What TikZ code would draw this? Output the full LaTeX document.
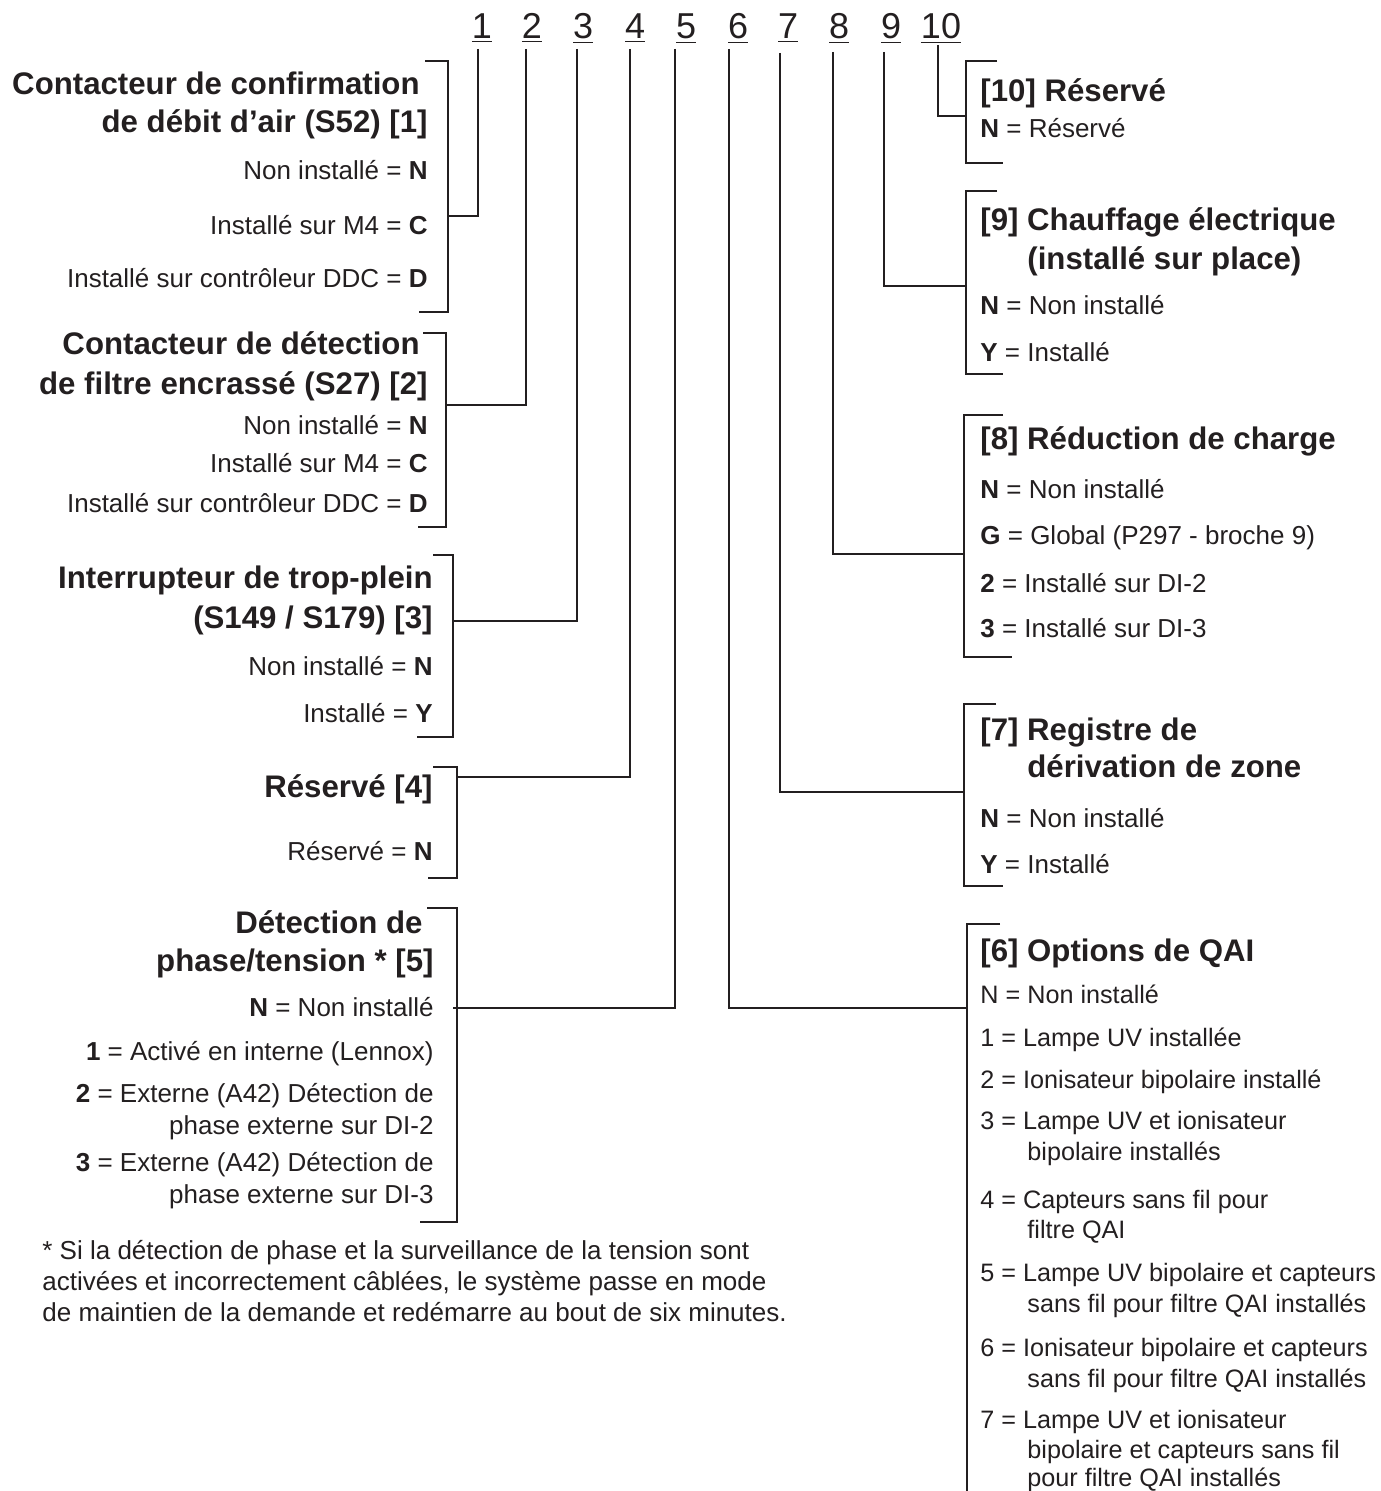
\documentclass[tikz,border=0pt]{standalone}
\usepackage{fontspec}
\setmainfont{Liberation Sans}
\definecolor{ink}{RGB}{35,31,32}
\tikzset{
  wire/.style    = {draw=ink, line width=1.1pt, line join=miter},
  opttxt/.style  = {font=\fontsize{13}{15}\selectfont, text=ink, inner sep=0pt},
  qaitxt/.style  = {opttxt, font=\fontsize{12.6}{15}\selectfont},
  headtxt/.style = {font=\fontsize{15.6}{18}\selectfont\bfseries, text=ink, inner sep=0pt},
  digit/.style   = {font=\fontsize{18}{20}\selectfont, text=ink, inner sep=0pt, anchor=base}
}
\begin{document}
\begin{tikzpicture}[x=0.5pt, y=-0.5pt]
  \useasboundingbox (0,0) rectangle (1380,1491);

  % ===================== digit row and wire tops =====================
  \foreach \n/\cx/\wx/\wy in {1/482/478/49, 2/532/526/49, 3/583/577/49, 4/635/630/49,
                              5/686/675/49, 6/738/729/49, 7/788/780/53, 8/839/833/52,
                              9/891/884/52, 10/941/938/45} {
    \node[digit] (d\n) at (\cx,39) {\underline{\n}};
    \coordinate (t\n) at (\wx,\wy);
  }

  % ===================== left column =====================
  % [1] air flow switch
  \node[headtxt, anchor=base east] (g1h1) at (420,95)  {Contacteur de confirmation};
  \node[headtxt, anchor=base east] (g1h2) at (428,133) {de débit d’air (S52) [1]};
  \foreach \y/\t [count=\i] in {180/Non installé = \textbf{N}, 235/Installé sur M4 = \textbf{C},
                                288/Installé sur contrôleur DDC = \textbf{D}}
    \node[opttxt, anchor=base east] (g1o\i) at (428,\y) {\t};
  \draw[wire] (425,61) -| (448,312) -- (419,312);
  \coordinate (j1) at (448,216);

  % [2] dirty filter switch
  \node[headtxt, anchor=base east] (g2h1) at (420,355) {Contacteur de détection};
  \node[headtxt, anchor=base east] (g2h2) at (428,395) {de filtre encrassé (S27) [2]};
  \foreach \y/\t [count=\i] in {435/Non installé = \textbf{N}, 473/Installé sur M4 = \textbf{C},
                                512/Installé sur contrôleur DDC = \textbf{D}}
    \node[opttxt, anchor=base east] (g2o\i) at (428,\y) {\t};
  \draw[wire] (423,333) -| (446,527) -- (418,527);
  \coordinate (j2) at (446,405);

  % [3] overflow switch
  \node[headtxt, anchor=base east] (g3h1) at (433,588) {Interrupteur de trop-plein};
  \node[headtxt, anchor=base east] (g3h2) at (433,628) {(S149 / S179) [3]};
  \foreach \y/\t [count=\i] in {675/Non installé = \textbf{N}, 722/Installé = \textbf{Y}}
    \node[opttxt, anchor=base east] (g3o\i) at (433,\y) {\t};
  \draw[wire] (433,555) -| (453,737) -- (417,737);
  \coordinate (j3) at (453,621);

  % [4] reserved
  \node[headtxt, anchor=base east] (g4h1) at (433,797) {Réservé [4]};
  \node[opttxt, anchor=base east] (g4o1) at (433,860) {Réservé = \textbf{N}};
  \draw[wire] (433,767) -| (457,878) -- (428,878);
  \coordinate (j4) at (457,777);

  % [5] phase / voltage detection
  \node[headtxt, anchor=base east] (g5h1) at (423,933) {Détection de};
  \node[headtxt, anchor=base east] (g5h2) at (434,971) {phase/tension * [5]};
  \foreach \y/\t [count=\i] in {1016/\textbf{N} = Non installé,
                                1060/\textbf{1} = Activé en interne (Lennox),
                                1102/\textbf{2} = Externe (A42) Détection de,
                                1134/phase externe sur DI-2,
                                1171/\textbf{3} = Externe (A42) Détection de,
                                1203/phase externe sur DI-3}
    \node[opttxt, anchor=base east] (g5o\i) at (434,\y) {\t};
  \draw[wire] (427,908) -| (457,1222) -- (420,1222);
  \coordinate (j5) at (453,1008);

  % footnote
  \foreach \y/\t [count=\i] in {1259/* Si la détection de phase et la surveillance de la tension sont,
                                1290/{activées et incorrectement câblées, le système passe en mode},
                                1321/de maintien de la demande et redémarre au bout de six minutes.}
    \node[opttxt, anchor=base west] (fn\i) at (42,\y) {\t};

  % ===================== right column =====================
  % [10] reserved
  \node[headtxt, anchor=base west] (g10h1) at (980,102) {[10] Réservé};
  \node[opttxt, anchor=base west] (g10o1) at (980,138) {\textbf{N} = Réservé};
  \draw[wire] (997,61) -| (966,163) -- (1003,163);
  \coordinate (j10) at (966,116);

  % [9] electric heat
  \node[headtxt, anchor=base west] (g9h1) at (980,231)  {[9] Chauffage électrique};
  \node[headtxt, anchor=base west] (g9h2) at (1027,270) {(installé sur place)};
  \foreach \y/\t [count=\i] in {315/\textbf{N} = Non installé, 362/\textbf{Y} = Installé}
    \node[opttxt, anchor=base west] (g9o\i) at (980,\y) {\t};
  \draw[wire] (997,191) -| (966,374) -- (1003,374);
  \coordinate (j9) at (966,286);

  % [8] load shedding
  \node[headtxt, anchor=base west] (g8h1) at (980,450) {[8] Réduction de charge};
  \foreach \y/\t [count=\i] in {499/\textbf{N} = Non installé, 545/\textbf{G} = Global (P297 - broche 9),
                                592/\textbf{2} = Installé sur DI-2, 637/\textbf{3} = Installé sur DI-3}
    \node[opttxt, anchor=base west] (g8o\i) at (980,\y) {\t};
  \draw[wire] (1003,415) -| (964,657) -- (1012,657);
  \coordinate (j8) at (964,554);

  % [7] zone bypass damper
  \node[headtxt, anchor=base west] (g7h1) at (980,740)  {[7] Registre de};
  \node[headtxt, anchor=base west] (g7h2) at (1027,777) {dérivation de zone};
  \foreach \y/\t [count=\i] in {827/\textbf{N} = Non installé, 873/\textbf{Y} = Installé}
    \node[opttxt, anchor=base west] (g7o\i) at (980,\y) {\t};
  \draw[wire] (996,704) -| (964,886) -- (1003,886);
  \coordinate (j7) at (964,792);

  % [6] IAQ options
  \node[headtxt, anchor=base west] (g6h1) at (980,961) {[6] Options de QAI};
  \foreach \x/\y/\t [count=\i] in {980/1003/N = Non installé,
                                   980/1046/1 = Lampe UV installée,
                                   980/1088/2 = Ionisateur bipolaire installé,
                                   980/1129/3 = Lampe UV et ionisateur,
                                   1027/1160/bipolaire installés,
                                   980/1208/4 = Capteurs sans fil pour,
                                   1027/1238/filtre QAI,
                                   980/1281/5 = Lampe UV bipolaire et capteurs,
                                   1027/1312/sans fil pour filtre QAI installés,
                                   980/1356/6 = Ionisateur bipolaire et capteurs,
                                   1027/1387/sans fil pour filtre QAI installés,
                                   980/1428/7 = Lampe UV et ionisateur,
                                   1027/1458/bipolaire et capteurs sans fil,
                                   1027/1486/pour filtre QAI installés}
    \node[qaitxt, anchor=base west] (g6o\i) at (\x,\y) {\t};
  \draw[wire] (1000,924) -| (967,1491);
  \coordinate (j6) at (967,1008);

  % ===================== wires =====================
  \foreach \n in {1,...,10}
    \draw[wire] (t\n) |- (j\n);
\end{tikzpicture}
\end{document}
